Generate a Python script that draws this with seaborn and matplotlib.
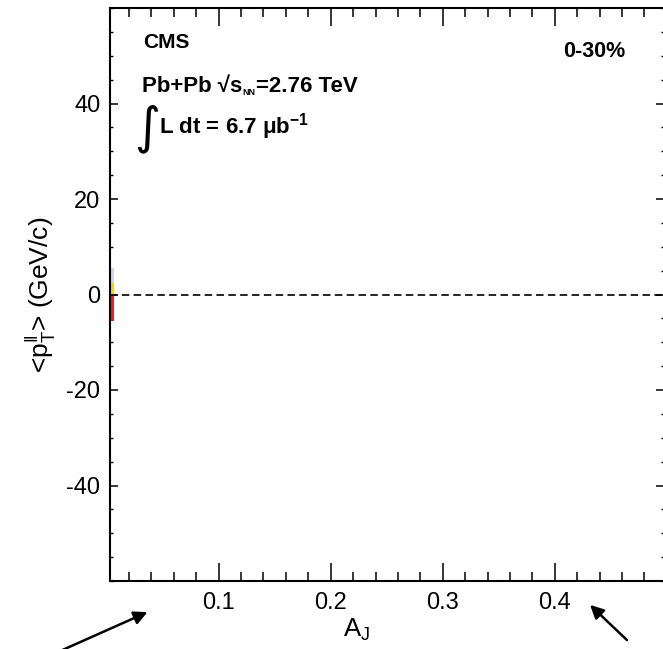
import numpy as np
import pandas as pd
import matplotlib
matplotlib.use("Agg")
import matplotlib.pyplot as plt
import seaborn as sns
from matplotlib.patches import FancyArrowPatch
from matplotlib.ticker import MultipleLocator

# ---------------- data ----------------
bin_aj = [0.0, 0.0, 0.0]                      # A_J bin centre of the (mostly hidden) stacked bar
components = ["soft", "mid", "hard"]          # stacked components
seg_values = [2.5, 3.1, -5.6]                 # segment heights (GeV/c)
seg_colors = ["#f2d21b", "#d3d5ec", "#d8262b"]
x_tick_vals = [0.1, 0.2, 0.3, 0.4]
y_tick_vals = [-40, -20, 0, 20, 40]

# stack: positives upward, negatives downward
pos_cum, neg_cum, tops = 0.0, 0.0, []
for v in seg_values:
    if v >= 0:
        pos_cum += v
        tops.append(pos_cum)
    else:
        neg_cum += v
        tops.append(neg_cum)
df = pd.DataFrame({"aj": bin_aj, "top": tops, "component": components})
draw_order = list(df.reindex(df["top"].abs().sort_values(ascending=False).index)["component"])
palette = dict(zip(components, seg_colors))

# ---------------- style ----------------
sns.set_theme(style="ticks")
plt.rcParams["font.family"] = ["Liberation Sans", "DejaVu Sans"]
plt.rcParams["mathtext.fontset"] = "custom"
plt.rcParams["mathtext.rm"] = "Liberation Sans"
plt.rcParams["mathtext.it"] = "Liberation Sans:italic"
plt.rcParams["mathtext.bf"] = "Liberation Sans:bold"
for k in ["text.color", "axes.labelcolor", "xtick.color", "ytick.color",
          "xtick.labelcolor", "ytick.labelcolor"]:
    plt.rcParams[k] = "black"

W, H = 663, 649
fig = plt.figure(figsize=(W / 100, H / 100), dpi=100)
fig.patch.set_facecolor("white")
ax = fig.add_axes([110 / W, 68 / H, (664 - 110) / W, (641 - 68) / H])

sns.barplot(data=df, x="aj", y="top", hue="component", hue_order=draw_order,
            palette=palette, native_scale=True, dodge=False, width=0.013,
            errorbar=None, legend=False, saturation=1, orient="x",
            linewidth=0, ax=ax)

ax.axhline(0, color="black", lw=1.2, ls=(0, (4.5, 2.6)), zorder=3)

ax.set_xlim(0.003, 0.4975)
ax.set_ylim(-60, 60)
ax.set_xticks(x_tick_vals)
ax.set_xticklabels([f"{v:.1f}" for v in x_tick_vals])
ax.set_yticks(y_tick_vals)
ax.set_yticklabels([str(v) for v in y_tick_vals])
ax.xaxis.set_minor_locator(MultipleLocator(0.02))
ax.yaxis.set_minor_locator(MultipleLocator(5))

ax.tick_params(axis="x", which="major", direction="in", length=13, width=1.1,
               top=True, bottom=True, labelsize=17, pad=8, color="black")
ax.tick_params(axis="x", which="minor", direction="in", length=6.5, width=1.1,
               top=True, bottom=True, color="black")
ax.tick_params(axis="y", which="major", direction="in", length=6, width=1.1,
               left=True, right=True, labelsize=17, pad=7, color="black")
ax.tick_params(axis="y", which="minor", direction="in", length=2.5, width=1.0,
               left=True, right=True, color="black")

for s in ["left", "bottom", "top"]:
    ax.spines[s].set_linewidth(1.5)
    ax.spines[s].set_color("black")
ax.spines["right"].set_visible(False)

ax.set_xlabel(r"$\mathregular{A_J}$", fontsize=18.5)
ax.xaxis.set_label_coords((357 - 110) / 554, -(617 - 581) / 573)
ax.set_ylabel(r"<$\mathregular{p_T^{\Vert}}$> (GeV/c)", fontsize=19)
ax.yaxis.set_label_coords((58 - 110) / 554, 0.5)

def ft(x, y, s, **kw):
    return fig.text(x / W, 1 - y / H, s, **kw)

ft(143, 48, "CMS", fontsize=15, fontweight="bold", va="baseline")
ft(563, 57, "0-30%", fontsize=15.5, fontweight="bold", va="baseline")

# Pb+Pb line composed of pieces so that the NN subscript can be tiny
renderer = fig.canvas.get_renderer()
t1 = ft(142, 92, "Pb+Pb √s", fontsize=16, fontweight="bold", va="baseline")
x1 = t1.get_window_extent(renderer).x1
t2 = fig.text((x1 + 0.5) / W, 1 - 95 / H, "NN", fontsize=6.5, fontweight="bold", va="baseline")
x2 = t2.get_window_extent(renderer).x1
fig.text((x2 + 0.5) / W, 1 - 92 / H, "=2.76 TeV", fontsize=16, fontweight="bold", va="baseline")

ft(134, 129, "∫", fontsize=36, va="center", family=["DejaVu Sans"])
ft(159, 133, r"L dt = 6.7 μb$^{\mathbf{-1}}$", fontsize=16, fontweight="bold",
   va="baseline")

def farrow(tail, head):
    a = FancyArrowPatch((tail[0] / W, 1 - tail[1] / H), (head[0] / W, 1 - head[1] / H),
                        transform=fig.transFigure, arrowstyle="-|>",
                        mutation_scale=20, lw=1.8, color="black")
    fig.add_artist(a)

farrow((40, 660), (150, 611))
farrow((629, 642), (588, 603))

fig.savefig("out.png", dpi=100, facecolor="white")
